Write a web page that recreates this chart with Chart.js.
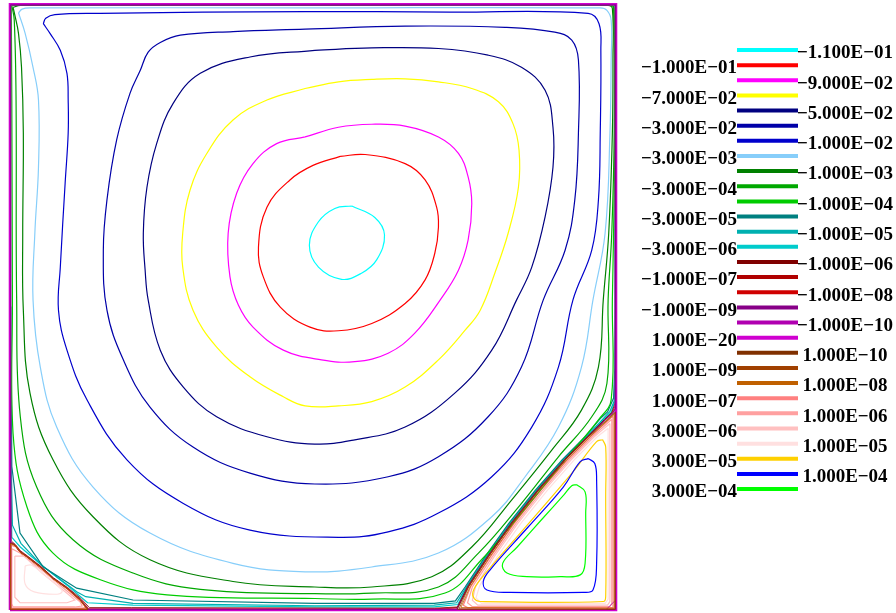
<!DOCTYPE html>
<html>
<head>
<meta charset="utf-8">
<script src="https://cdn.jsdelivr.net/npm/chart.js@4/dist/chart.umd.min.js"></script>
<style>
    body { margin: 0; background: #ffffff; }
    #cavity { display: block; }
</style>
</head>
<body>
<canvas id="cavity" width="896" height="613"></canvas>
<script>
// stream function levels, in legend order
const levelLabels = [
    '−1.100E−01', '−1.000E−01', '−9.000E−02', '−7.000E−02', '−5.000E−02', '−3.000E−02',
    '−1.000E−02', '−3.000E−03', '−1.000E−03', '−3.000E−04', '−1.000E−04', '−3.000E−05',
    '−1.000E−05', '−3.000E−06', '−1.000E−06', '−1.000E−07', '−1.000E−08', '−1.000E−09',
    '−1.000E−10', '1.000E−20', '1.000E−10', '1.000E−09', '1.000E−08', '1.000E−07',
    '1.000E−06', '3.000E−06', '1.000E−05', '3.000E−05', '1.000E−04', '3.000E−04'
];
const levelColors = [
    '#00ffff', '#ff0000', '#ff00ff', '#ffff00', '#000080', '#0000a8',
    '#0000cc', '#87cefa', '#008000', '#00a800', '#00cc00', '#008080',
    '#00b0b0', '#00cccc', '#800000', '#b00000', '#d00000', '#880088',
    '#b000b0', '#d000d0', '#803000', '#a04000', '#c06000', '#ff8080',
    '#ffa0a0', '#ffc0c0', '#ffe0e0', '#ffd000', '#0000ff', '#00ff00'
];

// primary vortex (x, y in the unit cavity)
const psiM110 = [[0.564,0.667],[0.602,0.648],[0.618,0.619],[0.605,0.578],[0.580,0.556],[0.547,0.546],[0.509,0.566],[0.494,0.602],[0.509,0.641],[0.536,0.663],[0.564,0.667]];
const psiM100 = [[0.545,0.749],[0.586,0.752],[0.652,0.737],[0.685,0.710],[0.704,0.665],[0.707,0.632],[0.701,0.589],[0.685,0.545],[0.652,0.506],[0.597,0.473],[0.542,0.461],[0.495,0.467],[0.446,0.500],[0.418,0.550],[0.410,0.599],[0.424,0.665],[0.462,0.710],[0.500,0.734],[0.545,0.749]];
const psiM090 = [[0.487,0.781],[0.542,0.797],[0.597,0.802],[0.652,0.799],[0.707,0.781],[0.740,0.754],[0.756,0.715],[0.762,0.671],[0.756,0.611],[0.740,0.561],[0.710,0.512],[0.668,0.457],[0.624,0.424],[0.569,0.410],[0.514,0.413],[0.451,0.429],[0.401,0.467],[0.377,0.503],[0.363,0.550],[0.360,0.622],[0.374,0.688],[0.401,0.737],[0.440,0.770],[0.487,0.781]];
const psiM070 = [[0.487,0.861],[0.542,0.872],[0.597,0.876],[0.652,0.877],[0.707,0.872],[0.762,0.861],[0.806,0.839],[0.830,0.803],[0.840,0.759],[0.839,0.698],[0.822,0.622],[0.800,0.556],[0.776,0.495],[0.751,0.462],[0.707,0.413],[0.652,0.368],[0.597,0.344],[0.542,0.337],[0.487,0.337],[0.451,0.352],[0.396,0.385],[0.341,0.434],[0.302,0.495],[0.285,0.566],[0.285,0.622],[0.297,0.693],[0.325,0.754],[0.368,0.809],[0.424,0.842],[0.487,0.861]];
const psiM050 = [[0.503,0.924],[0.396,0.913],[0.314,0.886],[0.269,0.836],[0.242,0.770],[0.226,0.698],[0.220,0.622],[0.223,0.561],[0.228,0.512],[0.248,0.429],[0.286,0.368],[0.341,0.319],[0.424,0.286],[0.503,0.274],[0.569,0.281],[0.652,0.302],[0.734,0.358],[0.795,0.429],[0.836,0.512],[0.861,0.566],[0.883,0.649],[0.896,0.731],[0.896,0.797],[0.883,0.858],[0.844,0.896],[0.789,0.916],[0.707,0.927],[0.597,0.928],[0.503,0.924]];
const psiM030 = [[0.487,0.959],[0.368,0.955],[0.281,0.949],[0.248,0.937],[0.228,0.921],[0.215,0.891],[0.198,0.853],[0.176,0.776],[0.160,0.677],[0.154,0.594],[0.160,0.495],[0.187,0.413],[0.231,0.335],[0.302,0.269],[0.396,0.226],[0.503,0.208],[0.624,0.220],[0.707,0.253],[0.789,0.319],[0.844,0.401],[0.880,0.512],[0.916,0.594],[0.932,0.677],[0.938,0.787],[0.938,0.908],[0.927,0.941],[0.899,0.954],[0.817,0.962],[0.652,0.964],[0.487,0.959]];
const psiM010 = [[0.055,0.968],[0.059,0.977],[0.074,0.983],[0.149,0.985],[0.487,0.988],[0.726,0.987],[0.954,0.985],[0.972,0.968],[0.975,0.924],[0.974,0.787],[0.971,0.677],[0.960,0.594],[0.929,0.512],[0.905,0.401],[0.861,0.302],[0.795,0.220],[0.707,0.160],[0.624,0.129],[0.542,0.120],[0.396,0.132],[0.286,0.176],[0.193,0.248],[0.127,0.347],[0.094,0.429],[0.080,0.495],[0.083,0.566],[0.091,0.705],[0.096,0.787],[0.096,0.842],[0.094,0.886],[0.083,0.924],[0.066,0.952],[0.055,0.968]];
const psiM3e3 = [[0.014,0.986],[0.020,0.992],[0.033,0.994],[0.487,0.994],[0.974,0.994],[0.985,0.990],[0.992,0.974],[0.992,0.908],[0.990,0.787],[0.982,0.622],[0.962,0.512],[0.943,0.401],[0.905,0.302],[0.850,0.220],[0.795,0.154],[0.707,0.094],[0.597,0.071],[0.487,0.063],[0.368,0.077],[0.231,0.127],[0.137,0.203],[0.077,0.302],[0.050,0.401],[0.038,0.512],[0.041,0.622],[0.047,0.731],[0.047,0.842],[0.038,0.896],[0.025,0.952],[0.014,0.986]];
const psiM1e3 = [[0.005,0.995],[0.017,0.998],[0.487,0.998],[0.987,0.998],[0.994,0.993],[0.995,0.908],[0.994,0.787],[0.988,0.622],[0.979,0.512],[0.971,0.401],[0.943,0.330],[0.894,0.264],[0.828,0.182],[0.762,0.104],[0.696,0.055],[0.597,0.038],[0.503,0.038],[0.368,0.047],[0.231,0.083],[0.137,0.154],[0.071,0.248],[0.033,0.358],[0.022,0.495],[0.021,0.622],[0.022,0.787],[0.019,0.896],[0.014,0.952],[0.008,0.982],[0.005,0.995]];
const psiM3e4 = [[0.003,0.998],[0.487,0.999],[0.990,0.999],[0.996,0.993],[0.997,0.787],[0.993,0.622],[0.987,0.512],[0.985,0.374],[0.960,0.319],[0.905,0.253],[0.839,0.170],[0.773,0.094],[0.707,0.038],[0.597,0.028],[0.503,0.027],[0.314,0.034],[0.203,0.061],[0.104,0.116],[0.044,0.203],[0.017,0.319],[0.011,0.512],[0.010,0.842],[0.007,0.974],[0.003,0.998]];
const psiM1e4 = [[0.002,0.999],[0.487,0.9993],[0.992,0.999],[0.997,0.990],[0.998,0.787],[0.996,0.622],[0.994,0.512],[0.992,0.347],[0.971,0.314],[0.916,0.248],[0.844,0.160],[0.778,0.083],[0.718,0.028],[0.597,0.018],[0.503,0.019],[0.259,0.025],[0.149,0.050],[0.071,0.094],[0.028,0.170],[0.005,0.292],[0.004,0.512],[0.003,0.842],[0.002,0.999]];
const psiM3e5 = [[0.001,0.999],[0.500,0.9992],[0.998,0.999],[0.9988,0.990],[0.9985,0.500],[0.998,0.400],[0.996,0.350],[0.986,0.327],[0.974,0.316],[0.949,0.286],[0.911,0.248],[0.867,0.198],[0.823,0.143],[0.784,0.088],[0.751,0.038],[0.735,0.015],[0.700,0.011],[0.503,0.011],[0.203,0.0165],[0.110,0.036],[0.055,0.071],[0.0165,0.127],[0.003,0.237],[0.0015,0.500],[0.001,0.999]];
const psiM1e5 = [[0.0008,0.9994],[0.500,0.9995],[0.9992,0.9994],[0.9993,0.500],[0.9988,0.400],[0.997,0.345],[0.990,0.328],[0.979,0.316],[0.951,0.286],[0.913,0.248],[0.869,0.198],[0.825,0.143],[0.786,0.088],[0.753,0.038],[0.737,0.012],[0.700,0.008],[0.503,0.007],[0.203,0.011],[0.125,0.022],[0.110,0.030],[0.052,0.074],[0.018,0.110],[0.004,0.140],[0.001,0.300],[0.0008,0.9994]];
const psiM3e6 = [[0.0006,0.9996],[0.500,0.9997],[0.9994,0.9996],[0.9995,0.500],[0.9992,0.400],[0.998,0.345],[0.992,0.326],[0.980,0.315],[0.952,0.287],[0.914,0.249],[0.870,0.199],[0.826,0.144],[0.787,0.089],[0.754,0.039],[0.739,0.009],[0.700,0.005],[0.503,0.005],[0.203,0.008],[0.128,0.012],[0.114,0.024],[0.094,0.041],[0.050,0.076],[0.017,0.104],[0.003,0.120],[0.0006,0.300],[0.0006,0.9996]];
const psiM1e6 = [[0.0004,0.9997],[0.9996,0.9997],[0.9997,0.345],[0.993,0.326],[0.981,0.3145],[0.953,0.2865],[0.915,0.2485],[0.871,0.1985],[0.827,0.1435],[0.788,0.0885],[0.755,0.0385],[0.7385,0.005],[0.700,0.003],[0.200,0.004],[0.131,0.004],[0.117,0.019],[0.095,0.037],[0.072,0.053],[0.051,0.072],[0.029,0.089],[0.017,0.098],[0.009,0.108],[0.002,0.114],[0.0004,0.300],[0.0004,0.9997]];
const psiM1e7 = [[0.0003,0.9998],[0.9997,0.9998],[0.9998,0.340],[0.994,0.326],[0.9815,0.3143],[0.9535,0.2862],[0.9155,0.2482],[0.8715,0.1982],[0.8275,0.1432],[0.7885,0.0882],[0.7555,0.0382],[0.738,0.004],[0.700,0.002],[0.130,0.002],[0.1165,0.0175],[0.0945,0.0365],[0.0715,0.0525],[0.0505,0.0715],[0.0285,0.0885],[0.0168,0.0965],[0.0085,0.1075],[0.0015,0.1125],[0.0003,0.300],[0.0003,0.9998]];
const psiM1e8 = [[0.0002,0.9999],[0.9998,0.9999],[0.9999,0.335],[0.995,0.326],[0.982,0.3142],[0.954,0.2861],[0.916,0.2481],[0.872,0.1981],[0.828,0.1431],[0.789,0.0881],[0.756,0.0381],[0.7375,0.003],[0.700,0.0015],[0.1295,0.0015],[0.116,0.0168],[0.094,0.0362],[0.0712,0.0522],[0.0502,0.0712],[0.0282,0.0882],[0.0166,0.0962],[0.0082,0.1072],[0.001,0.111],[0.0002,0.300],[0.0002,0.9999]];
const psiM1e9 = [[0.001,0.999],[0.999,0.999],[0.999,0.333],[0.9955,0.326],[0.9825,0.3142],[0.9542,0.2861],[0.9162,0.2481],[0.8722,0.1981],[0.8282,0.1431],[0.7892,0.0881],[0.7562,0.0381],[0.7372,0.001],[0.129,0.001],[0.1162,0.0167],[0.0942,0.0361],[0.0711,0.0521],[0.0501,0.0711],[0.0281,0.0881],[0.0165,0.0961],[0.008,0.1071],[0.001,0.1115],[0.001,0.999]];
const psiM1e10 = [[0.0005,0.9995],[0.9995,0.9995],[0.9995,0.331],[0.9958,0.3262],[0.9822,0.3141],[0.954,0.286],[0.916,0.248],[0.872,0.198],[0.828,0.143],[0.789,0.088],[0.756,0.038],[0.737,0.0005],[0.1288,0.0005],[0.116,0.0165],[0.094,0.036],[0.071,0.052],[0.050,0.071],[0.028,0.088],[0.0165,0.096],[0.008,0.107],[0.0005,0.111],[0.0005,0.9995]];
const psiZero = [[0,0],[1,0],[1,1],[0,1],[0,0]];
const cornerM1e10 = [[0.984,0.001],[0.999,0.001],[0.999,0.016],[0.984,0.001]];

// bottom-right secondary vortex
const brP3e4 = [[0.935,0.207],[0.949,0.195],[0.950,0.160],[0.949,0.077],[0.941,0.058],[0.908,0.055],[0.853,0.055],[0.820,0.061],[0.813,0.077],[0.837,0.104],[0.877,0.149],[0.914,0.190],[0.927,0.205],[0.935,0.207]];
const brP1e4 = [[0.954,0.250],[0.965,0.242],[0.968,0.215],[0.968,0.077],[0.962,0.033],[0.946,0.029],[0.825,0.029],[0.787,0.033],[0.781,0.047],[0.792,0.066],[0.855,0.137],[0.913,0.203],[0.941,0.245],[0.954,0.250]];
const brP3e5 = [[0.978,0.281],[0.983,0.269],[0.983,0.187],[0.983,0.022],[0.979,0.014],[0.776,0.014],[0.766,0.019],[0.764,0.030],[0.776,0.050],[0.856,0.143],[0.929,0.228],[0.968,0.278],[0.978,0.281]];
const brP1e5 = [[0.987,0.300],[0.969,0.286],[0.931,0.248],[0.887,0.198],[0.843,0.143],[0.804,0.088],[0.775,0.040],[0.769,0.020],[0.778,0.011],[0.982,0.011],[0.987,0.018],[0.987,0.300]];
const brP3e6 = [[0.990,0.308],[0.964,0.286],[0.926,0.248],[0.882,0.198],[0.838,0.143],[0.799,0.088],[0.768,0.038],[0.763,0.016],[0.772,0.008],[0.986,0.008],[0.990,0.014],[0.990,0.308]];
const brP1e6 = [[0.993,0.315],[0.961,0.286],[0.923,0.248],[0.879,0.198],[0.835,0.143],[0.796,0.088],[0.763,0.038],[0.755,0.012],[0.763,0.0055],[0.990,0.0055],[0.993,0.010],[0.993,0.315]];
const brP1e7 = [[0.995,0.320],[0.958,0.286],[0.920,0.248],[0.876,0.198],[0.832,0.143],[0.793,0.088],[0.760,0.038],[0.748,0.008],[0.755,0.004],[0.995,0.004],[0.995,0.320]];
const brP1e8 = [[0.997,0.323],[0.957,0.286],[0.919,0.248],[0.875,0.198],[0.831,0.143],[0.792,0.088],[0.759,0.038],[0.744,0.004],[0.997,0.003],[0.997,0.323]];
const brP1e9 = [[0.998,0.325],[0.955,0.286],[0.917,0.248],[0.873,0.198],[0.829,0.143],[0.790,0.088],[0.757,0.038],[0.741,0.002],[0.998,0.002],[0.998,0.325]];
const brP1e10 = [[0.999,0.327],[0.954,0.286],[0.916,0.248],[0.872,0.198],[0.828,0.143],[0.789,0.088],[0.756,0.038],[0.738,0.001],[0.999,0.001],[0.999,0.327]];

// bottom-left secondary vortex
const blP1e5 = [[0.025,0.073],[0.036,0.074],[0.059,0.056],[0.083,0.036],[0.086,0.030],[0.078,0.026],[0.040,0.030],[0.025,0.043],[0.025,0.073]];
const blP3e6 = [[0.008,0.089],[0.023,0.089],[0.053,0.061],[0.096,0.026],[0.107,0.0165],[0.094,0.012],[0.0165,0.012],[0.008,0.021],[0.008,0.089]];
const blP1e6 = [[0.003,0.101],[0.0165,0.094],[0.050,0.068],[0.092,0.033],[0.116,0.013],[0.119,0.0066],[0.107,0.005],[0.005,0.005],[0.0025,0.0115],[0.003,0.101]];
const blP1e7 = [[0.002,0.107],[0.010,0.104],[0.017,0.095],[0.028,0.087],[0.050,0.070],[0.071,0.051],[0.094,0.035],[0.116,0.015],[0.125,0.004],[0.120,0.003],[0.003,0.003],[0.002,0.107]];
const blP1e8 = [[0.0015,0.109],[0.009,0.106],[0.0165,0.0955],[0.028,0.0875],[0.050,0.0705],[0.071,0.0515],[0.094,0.0355],[0.116,0.0158],[0.127,0.002],[0.0015,0.002],[0.0015,0.109]];
const blP1e9 = [[0.001,0.110],[0.0085,0.1068],[0.0165,0.0958],[0.028,0.0878],[0.050,0.0708],[0.071,0.0518],[0.094,0.0358],[0.116,0.0162],[0.128,0.001],[0.001,0.001],[0.001,0.110]];
const blP1e10 = [[0.0005,0.1105],[0.008,0.107],[0.0165,0.096],[0.028,0.088],[0.050,0.071],[0.071,0.052],[0.094,0.036],[0.116,0.0165],[0.1285,0.0005],[0.0005,0.0005],[0.0005,0.1105]];

// [level index, contour, smooth, layer]  (lower layer is drawn on top)
const contourLines = [
    [0, psiM110, true, 3], [1, psiM100, true, 3], [2, psiM090, true, 3], [3, psiM070, true, 3],
    [4, psiM050, true, 3], [5, psiM030, true, 3], [6, psiM010, true, 3], [7, psiM3e3, true, 3],
    [8, psiM1e3, true, 3], [9, psiM3e4, true, 3], [10, psiM1e4, true, 3],
    [29, brP3e4, true, 3], [28, brP1e4, true, 3], [27, brP3e5, true, 3],
    [26, brP1e5, false, 3], [25, brP3e6, false, 3], [24, brP1e6, false, 3], [23, brP1e7, false, 3],
    [22, brP1e8, false, 0], [21, brP1e9, false, 0], [20, brP1e10, false, 0],
    [26, blP1e5, true, 3], [25, blP3e6, false, 3], [24, blP1e6, false, 3], [23, blP1e7, false, 3],
    [22, blP1e8, false, 0], [21, blP1e9, false, 0], [20, blP1e10, false, 0],
    [11, psiM3e5, false, 3], [12, psiM1e5, false, 3], [13, psiM3e6, false, 3], [14, psiM1e6, false, 2],
    [15, psiM1e7, false, 2], [16, psiM1e8, false, 2], [17, psiM1e9, false, 1], [18, psiM1e10, false, 1],
    [18, cornerM1e10, false, 1], [19, psiZero, false, 1]
];

// thin lines for the levels that crowd the walls and dividing streamlines
const thinLevels = [14, 15, 16, 17, 18, 20, 21, 22];

const datasets = contourLines.map(([lvl, pts, smooth, layer]) => ({
    label: levelLabels[lvl],
    data: pts.map(p => ({ x: p[0], y: p[1] })),
    borderColor: levelColors[lvl],
    borderWidth: lvl === 19 ? 2.6 : (thinLevels.includes(lvl) ? 0.8 : 1.2),
    showLine: true,
    fill: false,
    pointRadius: 0,
    tension: smooth ? 0.4 : 0,
    order: layer,
    clip: 4
}));

// legend: two staggered columns of swatches
const contourLegend = {
    id: 'contourLegend',
    afterDraw(chart) {
        const ctx = chart.ctx;
        ctx.save();
        ctx.font = 'bold 19px "Liberation Serif", "Times New Roman", serif';
        ctx.textBaseline = 'alphabetic';
        levelLabels.forEach((label, i) => {
            const y = 50 + i * 15.14;
            ctx.strokeStyle = levelColors[i];
            ctx.lineWidth = 4;
            ctx.beginPath();
            ctx.moveTo(737, y);
            ctx.lineTo(798, y);
            ctx.stroke();
            ctx.fillStyle = '#000000';
            if (i % 2 === 0) {
                ctx.textAlign = 'center';
                ctx.fillText(label, 845, y + 8.3);
            } else {
                ctx.textAlign = 'right';
                ctx.fillText(label, 737, y + 8.3);
            }
        });
        ctx.restore();
    }
};

new Chart(document.getElementById('cavity'), {
    type: 'scatter',
    data: { datasets: datasets },
    options: {
        responsive: false,
        animation: false,
        events: [],
        layout: { padding: { left: 10, top: 4.3, right: 280, bottom: 3 } },
        scales: {
            x: { type: 'linear', min: 0, max: 1, display: false },
            y: { type: 'linear', min: 0, max: 1, display: false }
        },
        plugins: {
            legend: { display: false },
            tooltip: { enabled: false }
        }
    },
    plugins: [contourLegend]
});
</script>
</body>
</html>
